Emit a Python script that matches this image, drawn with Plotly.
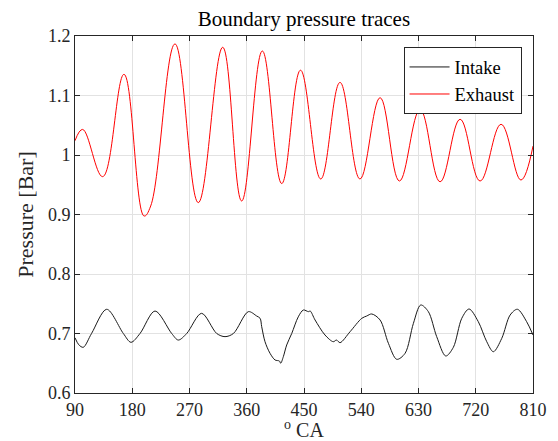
import plotly.graph_objects as go

# Crank angle (deg) and pressure (bar) (extrema of the exhaust trace)
exhaust_ca = [90, 102, 133.5, 167, 198.5, 209, 247.2, 283.8, 322.2, 352,
              384.5, 415, 444.5, 476.3, 506.6, 538, 569.6, 600, 632.5,
              663.9, 695.4, 726.8, 759.8, 791, 810]
exhaust_p = [1.024, 1.043, 0.9636, 1.1356, 0.8975, 0.9143, 1.1867, 0.92, 1.181, 0.9227,
             1.1748, 0.952, 1.1425, 0.9597, 1.122, 0.9597, 1.0963, 0.9563, 1.0765,
             0.955, 1.06, 0.9563, 1.0516, 0.958, 1.015]

intake_ca = [90, 96, 103, 116, 139.8, 166, 178, 192.2, 215.8, 242, 252.4, 265.6, 289, 312.8,
             325.8, 339, 362.5, 375.6, 381, 383.5, 388.7, 396.6, 404.5, 411.3, 413.4, 417.5,
             422.8, 430.7, 441, 449, 457, 459.7, 467.4, 483, 496, 501, 506.7, 522.4, 540.8,
             548.6, 556.5, 569.6, 582.7, 595.8, 608.9, 622, 633.5, 645.5, 658.6, 672.8,
             684.8, 698, 709.5, 724, 737.3, 747.7, 760.9, 774, 785.5, 800, 810]
intake_p = [0.6928, 0.681, 0.6768, 0.70, 0.7407, 0.70, 0.6852, 0.70, 0.7378, 0.70, 0.689,
            0.70, 0.7339, 0.70, 0.6947, 0.70, 0.7367, 0.7294, 0.7255, 0.7115, 0.6862, 0.6667,
            0.6555, 0.6538, 0.65, 0.661, 0.6807, 0.70, 0.728, 0.7395, 0.7367, 0.7378, 0.7227,
            0.6975, 0.6862, 0.689, 0.6846, 0.703, 0.7255, 0.7294, 0.7328, 0.7227, 0.6835,
            0.6566, 0.6667, 0.7171, 0.7479, 0.7367, 0.6947, 0.6622, 0.6768, 0.7255, 0.7412,
            0.7199, 0.6862, 0.6694, 0.6919, 0.731, 0.7407, 0.7199, 0.6975]

x_ticks = [90, 180, 270, 360, 450, 540, 630, 720, 810]
y_ticks = [0.6, 0.7, 0.8, 0.9, 1.0, 1.1, 1.2]
y_tick_text = ["0.6", "0.7", "0.8", "0.9", "1", "1.1", "1.2"]

FONT = "Liberation Serif"
AX = "#262626"
GRID = "#e2e2e2"

fig = go.Figure()
fig.add_trace(go.Scatter(x=intake_ca, y=intake_p, mode="lines", name="Intake",
                         line=dict(color="#1a1a1a", width=1, shape="spline", smoothing=0.9)))
fig.add_trace(go.Scatter(x=exhaust_ca, y=exhaust_p, mode="lines", name="Exhaust",
                         line=dict(color="#ff0000", width=1, shape="spline", smoothing=1.15)))

fig.update_layout(
    width=558, height=441,
    margin=dict(l=75, r=25, t=36, b=48, autoexpand=False),
    paper_bgcolor="white", plot_bgcolor="white",
    font=dict(family=FONT, color=AX, size=18),
    title=dict(text="Boundary pressure traces", x=0.5, xref="paper", xanchor="center",
               y=1 - 19 / 441, yref="container", yanchor="middle",
               font=dict(family=FONT, size=21, color="#000000")),
    legend=dict(x=0.975, y=0.968, xanchor="right", yanchor="top",
                bgcolor="white", bordercolor=AX, borderwidth=1,
                font=dict(family=FONT, size=18.5, color="#000000"),
                itemwidth=40, tracegroupgap=0),
    showlegend=True,
)
fig.update_xaxes(range=[90, 810], tickvals=x_ticks, ticktext=[str(v) for v in x_ticks],
                 showgrid=True, gridcolor=GRID, gridwidth=1, zeroline=False,
                 showline=True, linecolor=AX, linewidth=1, mirror="ticks",
                 ticks="inside", ticklen=5, tickcolor=AX, tickwidth=1,
                 tickfont=dict(family=FONT, size=18, color=AX),
                 title=dict(text="<sup>o</sup> CA", font=dict(family=FONT, size=20, color=AX),
                            standoff=9),
                 automargin=False)
fig.update_yaxes(range=[0.6, 1.2], tickvals=y_ticks, ticktext=y_tick_text,
                 showgrid=True, gridcolor=GRID, gridwidth=1, zeroline=False,
                 showline=True, linecolor=AX, linewidth=1, mirror="ticks",
                 ticks="inside", ticklen=5, tickcolor=AX, tickwidth=1,
                 tickfont=dict(family=FONT, size=18, color=AX),
                 title=dict(text="Pressure [Bar]", font=dict(family=FONT, size=22, color=AX),
                            standoff=8),
                 automargin=False)

fig.write_html("out.html")
